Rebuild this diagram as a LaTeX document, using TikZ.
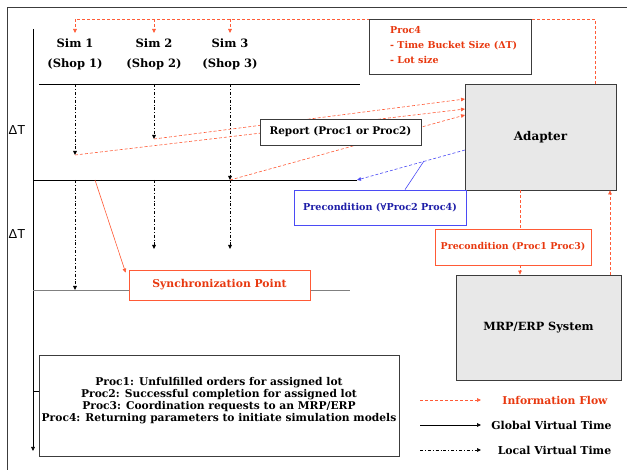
\documentclass[tikz,border=0pt]{standalone}
\usepackage{fontspec}
\setmainfont{DejaVu Serif}
\newfontfamily\axisfont{Liberation Sans}
\usetikzlibrary{arrows.meta}
\definecolor{flow}{HTML}{FF5A36}
\definecolor{flowtxt}{HTML}{E8380F}
\definecolor{pre}{HTML}{4B4BF5}
\definecolor{pretxt}{HTML}{1E1EA8}
\definecolor{boxgray}{HTML}{E8E8E8}
\definecolor{edge}{HTML}{3C3C3C}
% bold text with a given size and baseline skip
\newcommand{\fsl}[2]{\fontsize{#1}{#2}\selectfont\bfseries}
\newcommand{\fs}[1]{\fontsize{#1}{1.2\dimexpr#1pt\relax}\selectfont\bfseries}
\begin{document}
\begin{tikzpicture}[x=1pt,y=-1pt,
  tip/.style={-{Triangle[length=4pt,width=3.6pt]}},
  info/.style={draw=flow, dash pattern=on 3pt off 2pt, line width=0.6pt, tip},
  localtime/.style={draw=black, dash pattern=on 3pt off 2pt on 0.8pt off 2pt, line width=0.5pt, tip},
  globaltime/.style={draw=black, line width=0.6pt},
  graybox/.style={draw=edge, fill=boxgray, line width=0.8pt, inner sep=0pt},
  whitebox/.style={draw=edge, fill=white, line width=0.7pt, inner sep=0pt},
  redbox/.style={draw=flow, fill=white, line width=0.7pt, inner sep=0pt, text=flowtxt},
  bluebox/.style={draw=pre, fill=white, line width=0.7pt, inner sep=0pt, text=pretxt},
  simlabel/.style={align=center, inner xsep=1pt, inner ysep=5.5pt, font=\fsl{11.5}{20}},
  deltat/.style={font=\axisfont\fontsize{13}{15}\selectfont, inner sep=0pt},
]
\useasboundingbox (0,0) rectangle (627,470);
% outer frame
\draw[edge, line width=0.7pt] (7,470) -- (7,7) -- (627,7);

% global virtual time axis and synchronisation lines
\coordinate (gtop) at (33,29);
\coordinate (gbot) at (33,451);
\draw[globaltime, tip] (gtop) -- (gbot);
\draw[globaltime] (39,84) -- (360,84);
\draw[globaltime] (33,180) -- (357,180);
\draw[gray, line width=0.8pt] (33,290) -- (350,290);
\node[deltat] (dt1) at (17,130) {ΔT};
\node[deltat] (dt2) at (17,234) {ΔT};

% simulation models
\node[simlabel, anchor=north] (sim1) at (75,33) {Sim 1\\(Shop 1)};
\node[simlabel, anchor=north] (sim2) at (154,33) {Sim 2\\(Shop 2)};
\node[simlabel, anchor=north] (sim3) at (230,33) {Sim 3\\(Shop 3)};

% local virtual time of each model
\coordinate (s1a) at (75,84);  \coordinate (s1b) at (75,155);
\coordinate (s2a) at (154,84); \coordinate (s2b) at (154,139);
\coordinate (s3a) at (230,84); \coordinate (s3b) at (230,180);
\coordinate (s1c) at (75,180); \coordinate (s1d) at (75,290);
\coordinate (s2c) at (154,180); \coordinate (s2d) at (154,249);
\coordinate (s3c) at (230,180); \coordinate (s3d) at (230,249);
\draw[localtime] (s1a) -- (s1b);
\draw[localtime] (s2a) -- (s2b);
\draw[localtime] (s3a) -- (s3b);
\draw[localtime] (s1c) -- (s1d);
\draw[localtime] (s2c) -- (s2d);
\draw[localtime] (s3c) -- (s3d);

% adapter and MRP/ERP system
\node[graybox, minimum width=151pt, minimum height=106pt, font=\fs{12}] (adapter) at (540.5,137) {Adapter};
\node[graybox, minimum width=165pt, minimum height=105pt, font=\fs{11.3}] (mrp) at (538.5,327.5) {MRP/ERP System};

% parameters returned to the simulation models
\coordinate (ptop) at (595,19);
\coordinate (p1) at (75,19);
\coordinate (p2) at (154,19);
\coordinate (p3) at (230,19);
\draw[info] (adapter.north -| ptop) -- (ptop) -- (p1) -- (sim1.north);
\draw[info] (p2) -- (sim2.north);
\draw[info] (p3) -- (sim3.north);

% reports to the adapter
\coordinate (a1) at (465,99);
\coordinate (a2) at (465,109);
\coordinate (a3) at (465,115);
\draw[info] (s2b) -- (a1);
\draw[info] (s1b) -- (a2);
\draw[info] (s3b) -- (a3);

% precondition from the adapter
\coordinate (b1) at (465,150);
\coordinate (b2) at (357,180);
\coordinate (b3) at (424,161);
\draw[draw=pre, dash pattern=on 3pt off 2pt, line width=0.6pt, tip] (b1) -- (b2);

% adapter <-> MRP/ERP
\coordinate (m1) at (520,0);
\coordinate (m2) at (610,0);
\draw[info] (adapter.south -| m1) -- (mrp.north -| m1);
\draw[info] (mrp.north -| m2) -- (adapter.south -| m2);

% labels
\node[whitebox, minimum width=162pt, minimum height=55pt] (proc4) at (450,46.5) {};
\node[anchor=west, inner sep=0pt, text=flowtxt, font=\fsl{9.5}{15}, align=left] (proc4text) at (390,45.5)
  {Proc4\\- Time Bucket Size (ΔT)\\- Lot size};
\node[whitebox, minimum width=161pt, minimum height=26pt, font=\fs{10.5}] (report) at (340.5,132) {Report (Proc1 or Proc2)};
\node[bluebox, minimum width=172pt, minimum height=35pt, font=\fs{9.6}] (prebox) at (380,207.5) {Precondition (∀Proc2 Proc4)};
\draw[pre, line width=0.6pt] (b3) -- (prebox.north -| 405,0);
\node[redbox, minimum width=156pt, minimum height=36pt, font=\fs{9.4}] (pre13) at (513,247) {Precondition (Proc1 Proc3)};

% synchronization point
\coordinate (sy) at (95,180);
\node[redbox, minimum width=181pt, minimum height=30pt, font=\fs{10.8}] (sync) at (219.5,285) {Synchronization Point};
\draw[flow, line width=0.6pt, tip] (sy) -- ([shift={(-3pt,-3pt)}]sync.north west);

% process legend
\node[whitebox, minimum width=360pt, minimum height=101pt] (legend) at (219,405.5) {};
\node[inner sep=0pt, font=\fsl{10.7}{11.8}, align=center] (legendtext) at (219,400.5)
  {Proc1: Unfulfilled orders for assigned lot\\
   Proc2: Successful completion for assigned lot\\
   Proc3: Coordination requests to an MRP/ERP\\
   Proc4: Returning parameters to initiate simulation models};
\coordinate (tick) at (33,391);
\draw[globaltime] (tick) -- (tick -| legend.west);

% line style legend
\coordinate (l1a) at (420,400); \coordinate (l1b) at (481,400);
\coordinate (l2a) at (420,425); \coordinate (l2b) at (481,425);
\coordinate (l3a) at (420,450); \coordinate (l3b) at (481,450);
\draw[info] (l1a) -- (l1b);
\draw[globaltime, tip] (l2a) -- (l2b);
\draw[localtime] (l3a) -- (l3b);
\node[font=\fs{10.8}, text=flowtxt] (lg1) at (555,400) {Information Flow};
\node[font=\fs{10.9}] (lg2) at (551.5,425) {Global Virtual Time};
\node[font=\fs{10.9}] (lg3) at (554.5,450) {Local Virtual Time};
\end{tikzpicture}
\end{document}
